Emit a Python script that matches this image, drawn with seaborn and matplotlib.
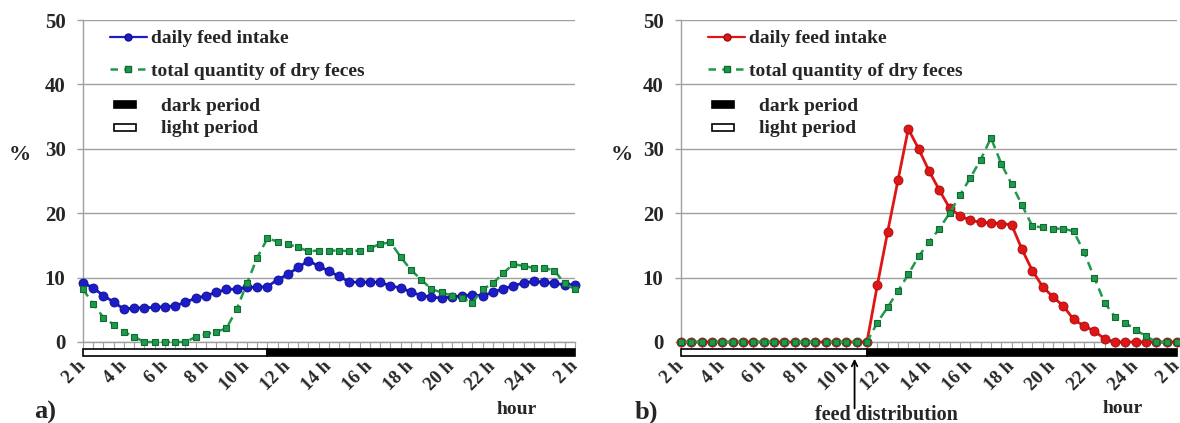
import matplotlib
matplotlib.use('Agg')
import matplotlib.pyplot as plt
import matplotlib.patches as mpatches
from matplotlib.lines import Line2D
from matplotlib.legend_handler import HandlerPatch
import numpy as np
import pandas as pd
import seaborn as sns

# half-hour slots from 2 h to 2 h of the next day
slots = np.arange(49) * 0.5 + 2
tick_hours = list(range(2, 27, 2))
tick_labels = ['2 h', '4 h', '6 h', '8 h', '10 h', '12 h', '14 h', '16 h',
               '18 h', '20 h', '22 h', '24 h', '2 h']

# a) feed available all day
intake_a = [9.2, 8.4, 7.2, 6.2, 5.1, 5.3, 5.3, 5.4, 5.5, 5.6, 6.2, 6.8, 7.2,
            7.7, 8.2, 8.2, 8.5, 8.5, 8.6, 9.7, 10.5, 11.6, 12.6, 11.8, 11.0,
            10.2, 9.3, 9.3, 9.3, 9.3, 8.7, 8.4, 7.8, 7.2, 7.0, 6.8, 7.0, 7.2,
            7.3, 7.2, 7.7, 8.3, 8.7, 9.2, 9.4, 9.3, 9.1, 8.9, 8.9]
feces_a = [8.2, 5.9, 3.8, 2.7, 1.6, 0.8, 0.0, 0.0, 0.0, 0.0, 0.0, 0.8, 1.2,
           1.6, 2.1, 5.1, 9.1, 13.1, 16.1, 15.6, 15.2, 14.7, 14.1, 14.2, 14.2,
           14.2, 14.1, 14.2, 14.6, 15.2, 15.5, 13.2, 11.2, 9.7, 8.2, 7.7, 7.2,
           6.8, 6.1, 8.2, 9.1, 10.7, 12.1, 11.8, 11.5, 11.5, 11.1, 9.1, 8.2]

# b) one feed distribution
intake_b = [0.0] * 19 + [8.8, 17.1, 25.1, 33.1, 30.0, 26.6, 23.6, 20.8, 19.6,
                         18.9, 18.6, 18.5, 18.4, 18.2, 14.4, 11.1, 8.6, 7.0,
                         5.6, 3.5, 2.5, 1.7, 0.5] + [0.0] * 7
feces_b = [0.0] * 19 + [3.0, 5.4, 7.9, 10.5, 13.3, 15.5, 17.6, 20.0, 22.8,
                        25.5, 28.3, 31.7, 27.7, 24.5, 21.3, 18.0, 17.8, 17.6,
                        17.6, 17.2, 14.0, 10.0, 6.1, 3.9, 3.0, 1.9, 0.9] + [0.0] * 3

light_start, light_end, day_end = 2, 11, 26
feed_time = 10.4

GREEN = '#1f9a4c'
GREEN_EDGE = '#0f6b32'
GREY = '#a0a0a0'

sns.set_style('white')
plt.rcParams['font.family'] = ['Liberation Serif', 'DejaVu Serif']
plt.rcParams['font.weight'] = 'bold'


def bar_handle(legend, orig_handle, xdescent, ydescent, width, height, fontsize):
    return mpatches.Rectangle((-xdescent + 0.05 * width, -ydescent + 0.2 * height),
                              0.6 * width, 0.5 * height)


def draw_panel(ax, intake, feces, color, edge):
    df = pd.DataFrame({'hour': slots, 'intake': intake, 'feces': feces})
    sns.lineplot(data=df, x='hour', y='intake', ax=ax, color=color, lw=2,
                 marker='o', ms=6.5, mfc=color, mec=edge, mew=0.6,
                 clip_on=False, zorder=3)
    sns.lineplot(data=df, x='hour', y='feces', ax=ax, color=GREEN, lw=1.8,
                 linestyle=(0, (3.5, 2.2)), marker='s', ms=5, mfc=GREEN,
                 mec=GREEN_EDGE, mew=0.8, clip_on=False, zorder=4)

    ax.set_xlim(2, 26)
    ax.set_ylim(0, 50)
    ax.set_yticks([0, 10, 20, 30, 40, 50])
    ax.yaxis.grid(True, color=GREY, lw=1)
    ax.set_xlabel('')
    ax.set_ylabel('')
    for s in ['top', 'right']:
        ax.spines[s].set_visible(False)
    for s in ['left', 'bottom']:
        ax.spines[s].set_color(GREY)
        ax.spines[s].set_linewidth(1)

    ax.set_xticks(tick_hours)
    ax.set_xticklabels(tick_labels)
    ax.set_xticks(slots, minor=True)
    ax.tick_params(axis='x', which='both', direction='out', length=4.5,
                   color=GREY, width=0.8, bottom=True)
    ax.tick_params(axis='x', which='major', pad=11, labelsize=13.5)
    ax.tick_params(axis='y', direction='out', length=4.5, color=GREY, width=1,
                   left=True, pad=8, labelsize=15)
    for lab in ax.get_xticklabels():
        lab.set_rotation(45)
        lab.set_ha('right')
        lab.set_va('center')
        lab.set_rotation_mode('anchor')

    # light / dark period bar under the axis
    ax.add_patch(mpatches.Rectangle((light_start, -2.2), light_end - light_start, 1.1,
                                    facecolor='white', edgecolor='black', lw=1.2,
                                    clip_on=False))
    ax.add_patch(mpatches.Rectangle((light_end, -2.2), day_end - light_end, 1.1,
                                    facecolor='black', edgecolor='black', lw=1.2,
                                    clip_on=False))

    series_handles = [
        Line2D([], [], color=color, lw=1.6, marker='o', ms=5, mfc=color, mec=edge),
        Line2D([], [], color=GREEN, lw=1.8, linestyle=(0, (3, 2.5)), marker='s',
               ms=4.5, mfc=GREEN, mec=GREEN_EDGE),
    ]
    leg1 = ax.legend(series_handles, ['daily feed intake', 'total quantity of dry feces'],
                     loc='upper left', bbox_to_anchor=(0.055, 0.97), frameon=False,
                     fontsize=14, handlelength=1.9, labelspacing=0.76,
                     handletextpad=0.2, borderaxespad=0, borderpad=0)
    ax.add_artist(leg1)

    period_handles = [
        mpatches.Patch(facecolor='black', edgecolor='black', lw=1.2),
        mpatches.Patch(facecolor='white', edgecolor='black', lw=1.2),
    ]
    ax.legend(period_handles, ['dark period', 'light period'],
              loc='upper left', bbox_to_anchor=(0.059, 0.76), frameon=False,
              fontsize=14, handlelength=1.9, labelspacing=0.25,
              handletextpad=0.6, borderaxespad=0, borderpad=0,
              handler_map={mpatches.Patch: HandlerPatch(patch_func=bar_handle)})


fig = plt.figure(figsize=(11.8, 4.23), dpi=100)
ax_a = fig.add_axes([0.0703, 0.1915, 0.4169, 0.761])
ax_b = fig.add_axes([0.5771, 0.1915, 0.4203, 0.761])

draw_panel(ax_a, intake_a, feces_a, '#1c1cc8', '#10108a')
draw_panel(ax_b, intake_b, feces_b, '#e01515', '#a00d0d')

# arrow marking the feed distribution time
ax_b.annotate('', xy=(feed_time, -2.6), xytext=(feed_time, -10.3),
              annotation_clip=False,
              arrowprops=dict(arrowstyle='->', color='black', lw=1.3,
                              shrinkA=0, shrinkB=0))
fig.text(0.751, 0.019, 'feed distribution', fontsize=14.5, ha='center', va='center')

fig.text(0.017, 0.634, '%', fontsize=16, ha='center', va='center')
fig.text(0.527, 0.634, '%', fontsize=16, ha='center', va='center')
fig.text(0.038, 0.026, 'a)', fontsize=19, ha='center', va='center')
fig.text(0.548, 0.026, 'b)', fontsize=19, ha='center', va='center')
fig.text(0.438, 0.033, 'hour', fontsize=14, ha='center', va='center')
fig.text(0.951, 0.035, 'hour', fontsize=14, ha='center', va='center')

fig.savefig('out.png', dpi=100)
